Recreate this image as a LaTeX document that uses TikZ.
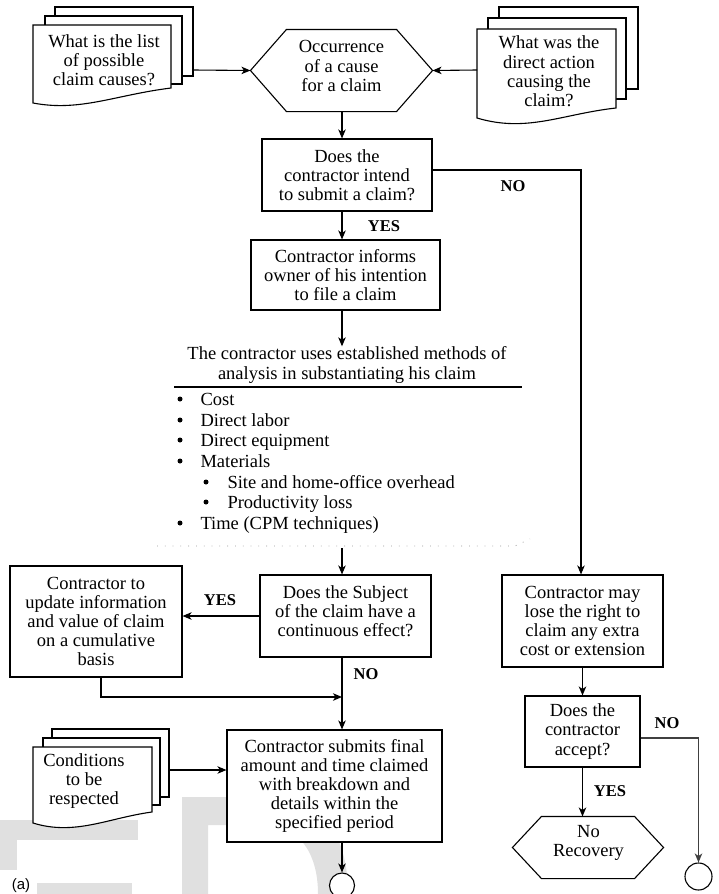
\documentclass[tikz,border=0pt]{standalone}
\usepackage{fontspec}
\setmainfont{Liberation Serif}
\setsansfont{Liberation Sans}
\usetikzlibrary{arrows.meta,calc}
\newcommand\dgtext{\fontsize{18.5}{19.2}\selectfont}
\newcommand\dglabel{\fontsize{16.5}{18}\selectfont\bfseries}
\begin{document}
\begin{tikzpicture}[x=1pt,y=-1pt,
  line width=1.1pt,
  box/.style={draw,fill=white,line width=1.1pt,inner sep=0pt,align=center,font=\dgtext},
  txt/.style={inner sep=0pt,align=center,font=\dgtext},
  item/.style={inner sep=0pt,anchor=base west,font=\dgtext},
  bul/.style={circle,fill=black,inner sep=0pt,minimum size=5pt},
  lbl/.style={inner sep=0pt,font=\dglabel},
  sheet/.style={draw,fill=white,line width=1.1pt},
  arr/.style={line width=1.1pt,-{Stealth[length=9pt,width=7.5pt,inset=2.5pt]}},
  conn/.style={line width=1.1pt},
  endc/.style={draw,circle,inner sep=0pt,line width=1.1pt,fill=white},
  hexline/.style={draw,fill=white,line width=1.1pt},
  wm/.style={fill=black!12,draw=none}]
\useasboundingbox (0,0) rectangle (719,894);

% faint watermark
\fill[wm] (0,820) rectangle (138,840);
\fill[wm] (0,820) rectangle (17,870);
\fill[wm] (37,883) rectangle (132,894);
\fill[wm,even odd rule] (182,797) -- (270,797) .. controls (322,797) and (348,835) .. (348,894) -- (182,894) -- cycle
  (208,825) -- (265,825) .. controls (298,825) and (318,852) .. (318,894) -- (208,894) -- cycle;

% document stack: list of causes
\draw[sheet] (55,7) rectangle (193,76);
\draw[sheet] (45,16) rectangle (182,84);
\draw[sheet] (33,25) -- (171,25) -- (171,88) .. controls (115,95) and (80,112) .. (33,103) -- cycle;
\node[txt] (q1) at (104,60) {What is the list\\of possible\\claim causes?};
\coordinate (q1out) at (193,70);

% document stack: direct action
\draw[sheet] (499,7) rectangle (638,89);
\draw[sheet] (488,18) rectangle (626,99);
\draw[sheet] (477,29) -- (616,29) -- (616,108) .. controls (562,114) and (527,133) .. (477,118) -- cycle;
\node[txt] (q2) at (549,71.5) {What was the\\direct action\\causing the\\claim?};
\coordinate (q2in) at (477,70);

% document stack: conditions
\draw[sheet] (52,729) rectangle (169,797);
\draw[sheet] (43,738) rectangle (160,805);
\draw[sheet] (33,747) -- (152,747) -- (152,812) .. controls (108,818) and (75,836) .. (33,823) -- cycle;
\node[txt] (q3) at (84,781) {Conditions\\to be\\respected};
\coordinate (q3out) at (169,770);

% hexagon: occurrence
\node[inner sep=0pt,minimum width=181pt,minimum height=81pt] (occ) at (341.5,70.5) {};
\draw[hexline] (occ.west) -- ($(occ.north west)+(36,0)$) -- ($(occ.north east)+(-36,0)$) -- (occ.east)
  -- ($(occ.south east)+(-36,0)$) -- ($(occ.south west)+(36,0)$) -- cycle;
\node[txt] (occt) at (341.5,66) {Occurrence\\of a cause\\for a claim};

% boxes
\node[box,minimum width=170pt,minimum height=72pt] (intend) at (347,175) {Does the\\contractor intend\\to submit a claim?};
\node[box,minimum width=189pt,minimum height=70pt] (inform) at (345.5,275) {Contractor informs\\owner of his intention\\to file a claim};

\node[txt] (meth) at (347,365) {The contractor uses established methods of\\analysis in substantiating his claim};
\draw[conn] (174,387) -- (522,387);
\node[bul] (b1) at (180,399) {};  \node[item] (i1) at (200,405) {Cost};
\node[bul] (b2) at (180,420) {};  \node[item] (i2) at (200,426) {Direct labor};
\node[bul] (b3) at (180,440) {};  \node[item] (i3) at (200,446) {Direct equipment};
\node[bul] (b4) at (180,461) {};  \node[item] (i4) at (200,467) {Materials};
\node[bul] (b5) at (206,482) {};  \node[item] (i5) at (227,488) {Site and home-office overhead};
\node[bul] (b6) at (206,502) {};  \node[item] (i6) at (227,508) {Productivity loss};
\node[bul] (b7) at (180,523) {};  \node[item] (i7) at (200,529) {Time (CPM techniques)};
\draw[black!40,line width=0.8pt,dash pattern=on 0.8pt off 7pt] (157,546) -- (515,546) -- (530,539);
\coordinate (dl) at (342,548);

\node[box,minimum width=171pt,minimum height=82pt] (subj) at (345.5,616) {};
\node[txt] (subjt) at (345.5,611) {Does the Subject\\of the claim have a\\continuous effect?};
\node[box,minimum width=172pt,minimum height=111pt] (upd) at (96,621.5) {Contractor to\\update information\\and value of claim\\on a cumulative\\basis};
\node[box,minimum width=215pt,minimum height=112pt] (subm) at (334.5,786) {Contractor submits final\\amount and time claimed\\with breakdown and\\details within the\\specified period};
\node[box,minimum width=161pt,minimum height=92pt] (lose) at (582.5,621) {Contractor may\\lose the right to\\claim any extra\\cost or extension};
\node[box,minimum width=115pt,minimum height=71pt] (acc) at (582.5,731.5) {Does the\\contractor\\accept?};

% hexagon: no recovery
\node[inner sep=0pt,minimum width=150pt,minimum height=61pt] (nor) at (588,847.5) {};
\draw[hexline] (nor.west) -- ($(nor.north west)+(29,0)$) -- ($(nor.north east)+(-29,0)$) -- (nor.east)
  -- ($(nor.south east)+(-29,0)$) -- ($(nor.south west)+(29,0)$) -- cycle;
\node[txt] (nort) at (588.5,843) {No\\Recovery};

% terminators
\node[endc,minimum size=25pt] (end1) at (342,885.5) {};
\node[endc,minimum size=27pt] (end2) at (698.5,876.5) {};

% connectors
\coordinate (cx) at (342,0);
\coordinate (rx) at (581,0);
\coordinate (join) at (342,697);
\draw[arr] (q1out) -- (occ.west);
\draw[arr] (q2in) -- (occ.east);
\draw[arr] (occ.south -| cx) -- (intend.north -| cx);
\draw[arr] (intend.south -| cx) -- (inform.north -| cx);
\draw[arr] (inform.south -| cx) -- (meth.north -| cx);
\draw[arr] (dl) -- (subj.north -| cx);
\draw[arr] (subj.west) -- (subj.west -| upd.east);
\draw[arr] ([xshift=5pt]upd.south) |- (join);
\draw[arr] (subj.south -| cx) -- (subm.north -| cx);
\draw[arr] (q3out) -- (q3out -| subm.west);
\draw[arr] (subm.south -| cx) -- (end1.north);
\draw[arr] ([yshift=5pt]intend.east) -| (lose.north -| rx);
\draw[arr] (lose.south) -- (acc.north);
\draw[arr] (acc.south) -- (acc.south |- nor.north);
\draw[arr,draw=black!75] ([yshift=-6.5pt]acc.east) -| (end2.north);

% labels
\node[lbl] (yes1) at (384,226) {YES};
\node[lbl] (no1) at (513,186) {NO};
\node[lbl] (yes2) at (220,600) {YES};
\node[lbl] (no2) at (366,674) {NO};
\node[lbl] (no3) at (667,723) {NO};
\node[lbl] (yes3) at (610,791) {YES};
\node[inner sep=0pt,font=\sffamily\fontsize{15}{15}\selectfont] (lbla) at (21,886) {(a)};
\end{tikzpicture}
\end{document}
